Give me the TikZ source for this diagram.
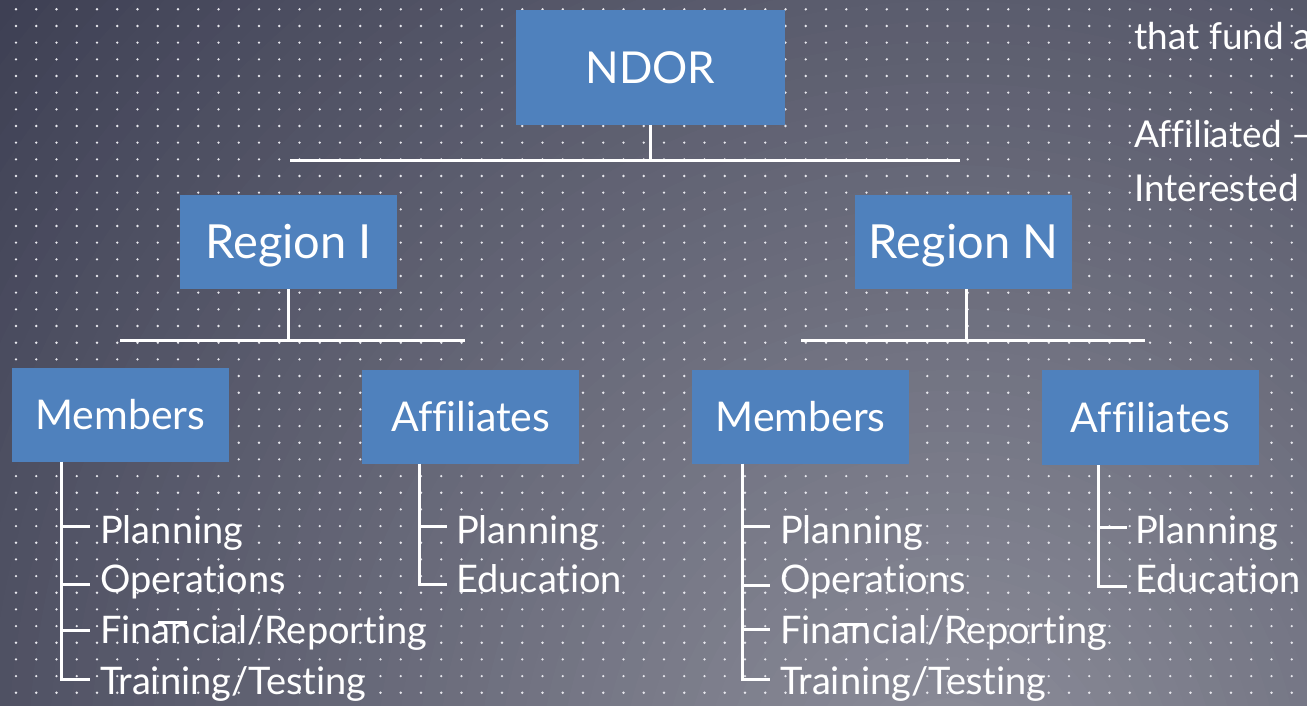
\documentclass[tikz,border=0pt]{standalone}
\usepackage{fontspec}
\setmainfont{Lato}[Ligatures=NoCommon]
\definecolor{boxblue}{HTML}{4F81BD}
\definecolor{bgdark}{HTML}{3E4054}
\definecolor{bglight}{HTML}{8E8F9B}
\definecolor{dotc}{HTML}{E8E8EE}
\begin{document}
\begin{tikzpicture}[x=1pt,y=-1pt,
  box/.style={rectangle, fill=boxblue, text=white, inner sep=0pt},
  bigbox/.style={box, minimum width=269pt, minimum height=115pt,
    font=\fontsize{44}{48}\selectfont, text height=31.5pt, text depth=0pt},
  regbox/.style={box, minimum width=217pt, minimum height=94pt,
    font=\fontsize{47}{50}\selectfont, text height=33.7pt, text depth=0pt},
  subbox/.style={box, minimum width=217pt, minimum height=94pt,
    font=\fontsize{41}{44}\selectfont, text height=29.4pt, text depth=0pt},
  item/.style={anchor=base west, inner sep=0pt, text=white, font=\fontsize{38}{40}\selectfont},
  note/.style={anchor=base west, inner sep=0pt, text=white, font=\fontsize{37}{40}\selectfont},
  tree/.style={draw=white, line width=3pt}]
\useasboundingbox (0,0) rectangle (1307,706);
\begin{scope}
  \clip (0,0) rectangle (1307,706);
  \fill[bgdark] (0,0) rectangle (1307,706);
  \foreach \i in {0,...,59}{
    \pgfmathsetmacro\r{1230*(1-\i/60)}
    \pgfmathsetmacro\p{100*\i/60}
    \fill[bglight!\p!bgdark] (950,780) circle[radius=\r pt];
  }
  \foreach \i in {0,...,64}{
    \foreach \j in {0,...,42}{
      \fill[dotc] ({16+20.25*\i},{9.3+16.67*\j}) circle[radius=1.3pt];
    }
  }
  % partial notes at top right
  \node[note] (n1) at (1134,50) {that fund a};
  \node[note] (n2) at (1134,148) {Affiliated --};
  \node[note] (n3) at (1134,201) {Interested};
\end{scope}

% boxes
\node[bigbox] (ndor) at (650.5,67.5) {NDOR};
\node[regbox] (reg1) at (288.7,242) {Region I};
\node[regbox] (regN) at (963.5,242) {Region N};
\node[subbox] (memL) at (120.5,414.5) {Members};
\node[subbox] (affL) at (470.7,416.5) {Affiliates};
\node[subbox] (memR) at (800.7,416.5) {Members};
\node[subbox, minimum height=95pt] (affR) at (1150.5,417.5) {Affiliates};

% top bars
\coordinate (b0L) at (290,161); \coordinate (b0R) at (960,161);
\draw[tree] (b0L) -- (b0R);
\draw[tree] (ndor.south) -- (ndor.south |- b0L);
\coordinate (b1L) at (120,340); \coordinate (b1R) at (465,340);
\draw[tree] (b1L) -- (b1R);
\draw[tree] (reg1.south) -- (reg1.south |- b1L);
\coordinate (b2L) at (801,340); \coordinate (b2R) at (1145,340);
\draw[tree] (b2L) -- (b2R);
\draw[tree] ([xshift=2.5pt]regN.south) -- ([xshift=2.5pt]regN.south |- b2L);

% Members left list
\coordinate (sA) at ([xshift=50pt]memL.south west);
\coordinate (tA1) at (90,526); \coordinate (tA2) at (90,584);
\coordinate (tA3) at (90,630); \coordinate (tA4) at (90,679);
\draw[tree] (sA) |- (tA4);
\draw[tree] (sA |- tA1) -- (tA1);
\draw[tree] (sA |- tA2) -- (tA2);
\draw[tree] (sA |- tA3) -- (tA3);
\node[item] (iA1) at (100,543) {Planning};
\node[item] (iA2) at (100,592) {Operations};
\node[item] (iA3) at (100,643) {Financial/Reporting};
\node[item] (iA4) at (100,694) {Training/Testing};
\coordinate (xA1) at (158,622); \coordinate (xA2) at (187,622);
\draw[tree] (xA1) -- (xA2);

% Affiliates left list
\coordinate (sB) at ([xshift=57pt]affL.south west);
\coordinate (tB1) at (447,526); \coordinate (tB2) at (447,584);
\draw[tree] (sB) |- (tB2);
\draw[tree] (sB |- tB1) -- (tB1);
\node[item] (iB1) at (456,543) {Planning};
\node[item] (iB2) at (456,592) {Education};

% Members right list
\coordinate (sC) at ([xshift=50pt]memR.south west);
\coordinate (tC1) at (770,526); \coordinate (tC2) at (770,585);
\coordinate (tC3) at (770,629); \coordinate (tC4) at (770,679);
\draw[tree] (sC) |- (tC4);
\draw[tree] (sC |- tC1) -- (tC1);
\draw[tree] (sC |- tC2) -- (tC2);
\draw[tree] (sC |- tC3) -- (tC3);
\node[item] (iC1) at (780,543) {Planning};
\node[item] (iC2) at (780,592) {Operations};
\node[item] (iC3) at (780,643) {Financial/Reporting};
\node[item] (iC4) at (780,694) {Training/Testing};
\coordinate (xC1) at (838,624); \coordinate (xC2) at (867,624);
\draw[tree] (xC1) -- (xC2);

% Affiliates right list
\coordinate (sD) at ([xshift=57pt]affR.south west);
\coordinate (tD1) at (1127,527); \coordinate (tD2) at (1127,586);
\draw[tree] (sD) |- (tD2);
\draw[tree] (sD |- tD1) -- (tD1);
\node[item] (iD1) at (1135,543) {Planning};
\node[item] (iD2) at (1135,592) {Education};
\end{tikzpicture}
\end{document}
